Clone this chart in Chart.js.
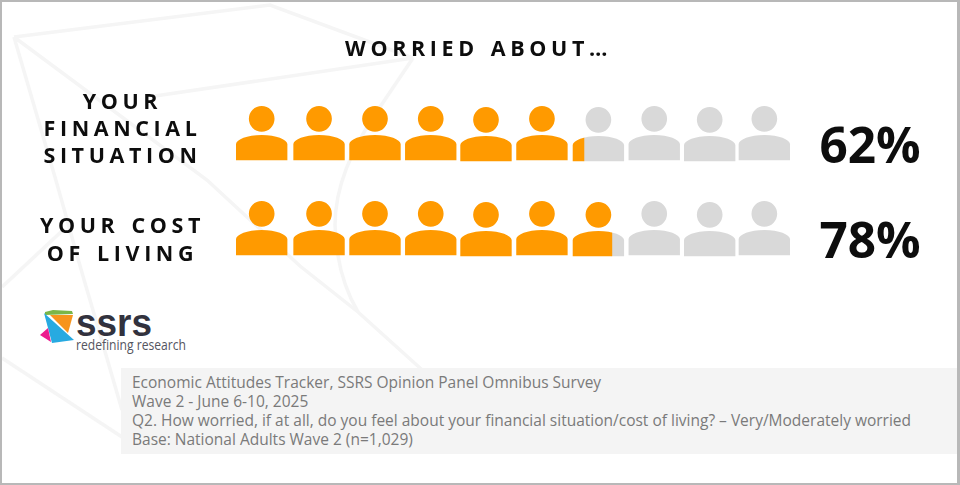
<!DOCTYPE html>
<html>
<head>
<meta charset="utf-8">
<script src="https://cdn.jsdelivr.net/npm/chart.js@4"></script>
<style>
  html, body { margin: 0; padding: 0; background: #fff; }
  #page { position: relative; width: 960px; height: 485px; overflow: hidden; }
  #bg, #chart, #frame, #note { position: absolute; }
  #bg { left: 0; top: 0; }
  #chart { left: 0; top: 0; }
  #frame { left: 0; top: 0; width: 955px; height: 481px; border: solid #b8b8b8; border-width: 2px 3px 2px 2px; }
  #note {
    left: 121px; top: 368px; width: 825px; height: 86px; padding-left: 11px;
    background: #f4f4f4; color: #7a7a7a;
    font: 15.5px/19px "Open Sans", sans-serif; white-space: nowrap;
  }
  #note div:first-child { margin-top: 5px; }
</style>
</head>
<body>
<div id="page">
  <svg id="bg" width="960" height="485">
    <g fill="none" stroke="#f5f5f5" stroke-width="3.5">
      <path d="M14 37 L270 5 L413 58 L155 96"/>
      <path d="M14 37 L207 180 L300 266 L358 312 L430 377"/>
      <path d="M14 37 L52 167 C62 200 75 250 90 300 L122 410"/>
      <path d="M413 58 L380 107 C350 150 335 190 335 225 C336 260 345 290 358 312"/>
      <path d="M2 287 L63 230"/>
      <path d="M2 358 L122 437"/>
    </g>
    <polygon points="45,312 53,310 72,311 73,314 45,315" fill="#7ab648"/>
    <polygon points="50,315 73,315 68,333" fill="#f7941d"/>
    <polygon points="44,313 74,340 52,343" fill="#27aae1"/>
    <polygon points="40,335 48,328 51,342" fill="#ec1c8e"/>
    <text x="76" y="336" font-family="Liberation Sans" font-weight="bold" font-size="38" fill="#32323e" textLength="76" lengthAdjust="spacingAndGlyphs">ssrs</text>
    <text x="76" y="350" font-family="Open Sans" font-size="14.5" fill="#55555f" textLength="110" lengthAdjust="spacingAndGlyphs">redefining research</text>
  </svg>
  <canvas id="chart" width="960" height="485"></canvas>
  <div id="frame"></div>
  <div id="note">
    <div>Economic Attitudes Tracker, SSRS Opinion Panel Omnibus Survey</div>
    <div>Wave 2 - June 6-10, 2025</div>
    <div>Q2. How worried, if at all, do you feel about your financial situation/cost of living? – Very/Moderately worried</div>
    <div>Base: National Adults Wave 2 (n=1,029)</div>
  </div>
</div>
<script>
const titleText = 'WORRIED ABOUT…'
const categories = [['YOUR', 'FINANCIAL', 'SITUATION'], ['YOUR COST', 'OF LIVING']]
const pctLabels = ['62%', '78%']

// people filled (the second row shows less than its 78% label)
const filled = [6.23, 6.73]
const notFilled = [3.77, 3.27]
const peopleCount = 10

// the icons sit slightly unevenly in the original, px
const nudgeX = [0, 1.5, 1.6, 1.5, 0.9, 1, 1.6, 1.6, 1.2, 0]
const nudgeY = [0, 0, 0, 0, 1, 0, 1, 0, 1, 0]
// row labels are not centred on the rows, in row units
const labelNudge = [-0.03, 0.136]

const orange = '#ff9a00'
const grey = '#d9d9d9'
const ink = '#0d0d0d'

function addPerson(ctx, x, top, w) {
  const mid = x + w / 2
  const r = w / 4
  const peak = top + 29
  const bottom = top + 54.3
  ctx.moveTo(mid + r, top + r)
  ctx.arc(mid, top + r, r, 0, Math.PI * 2)
  ctx.moveTo(x, bottom)
  ctx.lineTo(x, peak + 9)
  ctx.bezierCurveTo(x + 0.5, peak + 4.5, x + 11, peak, mid, peak)
  ctx.bezierCurveTo(x + w - 11, peak, x + w - 0.5, peak + 4.5, x + w, peak + 9)
  ctx.lineTo(x + w, bottom)
  ctx.closePath()
}

function setSpacing(ctx) {
  ctx.letterSpacing = '4.6px'
  ctx.wordSpacing = '2px'
}

// letter spacing for title and row labels, and the bars clipped to the people
const pictogram = {
  id: 'pictogram',
  beforeLayout(chart) { setSpacing(chart.ctx) },
  beforeDraw(chart) { setSpacing(chart.ctx) },
  beforeDatasetsDraw(chart) {
    const ctx = chart.ctx
    const xs = chart.scales.x
    const ys = chart.scales.y
    const w = (xs.getPixelForValue(1) - xs.getPixelForValue(0)) * 0.92
    ctx.save()
    ctx.beginPath()
    categories.forEach((c, row) => {
      for (let i = 0; i < peopleCount; i++) {
        addPerson(ctx, xs.getPixelForValue(i) + nudgeX[i], ys.getPixelForValue(row) - 27 + nudgeY[i], w)
      }
    })
    ctx.clip()
  },
  afterDatasetsDraw(chart) {
    chart.ctx.restore()
    chart.ctx.letterSpacing = '0px'
    chart.ctx.wordSpacing = '0px'
  }
}

const chart = new Chart(document.getElementById('chart'), {
  type: 'bar',
  data: {
    labels: categories,
    datasets: [
      { data: filled, backgroundColor: orange, barThickness: 62, borderWidth: 0 },
      { data: notFilled, backgroundColor: grey, barThickness: 62, borderWidth: 0 }
    ]
  },
  options: {
    indexAxis: 'y',
    responsive: false,
    animation: false,
    layout: { padding: { left: 0, right: 3, top: 0, bottom: 209.5 } },
    plugins: {
      legend: { display: false },
      tooltip: { enabled: false },
      title: {
        display: true,
        text: titleText,
        color: ink,
        font: { family: 'Open Sans', size: 21.5, weight: 'bold', lineHeight: 1.2 },
        padding: { top: 37, bottom: 22.7 }
      }
    },
    scales: {
      x: { display: false, stacked: true, min: 0, max: peopleCount },
      y: {
        stacked: true,
        border: { display: false },
        grid: { display: false, drawTicks: false },
        afterFit(scale) { scale.width = 236 },
        afterBuildTicks(scale) {
          scale.ticks = categories.map((c, i) => ({ value: i + labelNudge[i] }))
        },
        ticks: {
          autoSkip: false,
          color: ink,
          padding: 31,
          crossAlign: 'center',
          font: { family: 'Open Sans', size: 21.5, weight: 'bold', lineHeight: 1.265 },
          callback: (v, i) => categories[i]
        }
      },
      y1: {
        type: 'category',
        position: 'right',
        labels: pctLabels,
        offset: true,
        border: { display: false },
        grid: { display: false, drawTicks: false },
        afterFit(scale) { scale.width = 162.5 },
        ticks: {
          z: 1,
          color: ink,
          padding: 25,
          labelOffset: 16,
          font: { family: 'Open Sans', size: 49.5, weight: 'bold' }
        }
      }
    }
  },
  plugins: [pictogram]
})
</script>
</body>
</html>
